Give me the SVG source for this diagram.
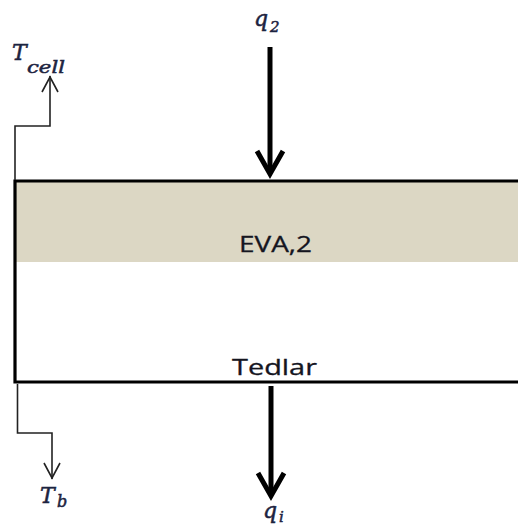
<svg xmlns="http://www.w3.org/2000/svg" width="518" height="531" viewBox="0 0 518 531">
<style>
.box{fill:none;stroke:#000;stroke-width:3.2}
.thick{fill:none;stroke:#000;stroke-width:5;stroke-linecap:butt;stroke-linejoin:miter}
.thin{fill:none;stroke:#222;stroke-width:1.6}
.lbl{font-family:"Open Sans","Noto Sans",sans-serif;font-size:21px;fill:#15151f;stroke:#15151f;stroke-width:0.3}
.math{font-family:"DejaVu Serif","Liberation Serif",serif;font-style:italic;fill:#1c2340;stroke:#1c2340;stroke-width:0.5}
</style>
<rect width="518" height="531" fill="#fff"/>
<g id="layers">
<rect x="15" y="181" width="505" height="81" fill="#dcd7c4"/>
<path class="box" d="M520 181 H15 V382 H520"/>
<text class="lbl" x="239" y="252" textLength="73" lengthAdjust="spacingAndGlyphs">EVA,2</text>
<text class="lbl" x="232" y="375" textLength="85" lengthAdjust="spacingAndGlyphs">Tedlar</text>
</g>
<g id="connectors">
<path class="thick" d="M270 47 V172"/>
<path class="thick" d="M257 151 L270 174 L283 151"/>
<path class="thick" d="M271 386 V494"/>
<path class="thick" d="M258 473 L271 496 L284 473"/>
<path class="thin" d="M15 180 V126 H50 V76"/>
<path class="thin" d="M42 92 L50 77 L58 92"/>
<path class="thin" d="M17.5 384 V433 H52 V479"/>
<path class="thin" d="M44 463 L52 478 L60 463"/>
</g>
<g id="label-q2"><text class="math" x="254" y="26" font-size="22">q</text><text class="math" x="270" y="32" font-size="15">2</text></g>
<g id="label-tcell"><text class="math" x="12" y="60" font-size="22">T</text><text class="math" x="27" y="73" font-size="17" textLength="38" lengthAdjust="spacingAndGlyphs">cell</text></g>
<g id="label-tb"><text class="math" x="40" y="503" font-size="22">T</text><text class="math" x="57" y="507" font-size="16">b</text></g>
<g id="label-qi"><text class="math" x="263" y="518" font-size="22">q</text><text class="math" x="279" y="522" font-size="15">i</text></g>
</svg>
